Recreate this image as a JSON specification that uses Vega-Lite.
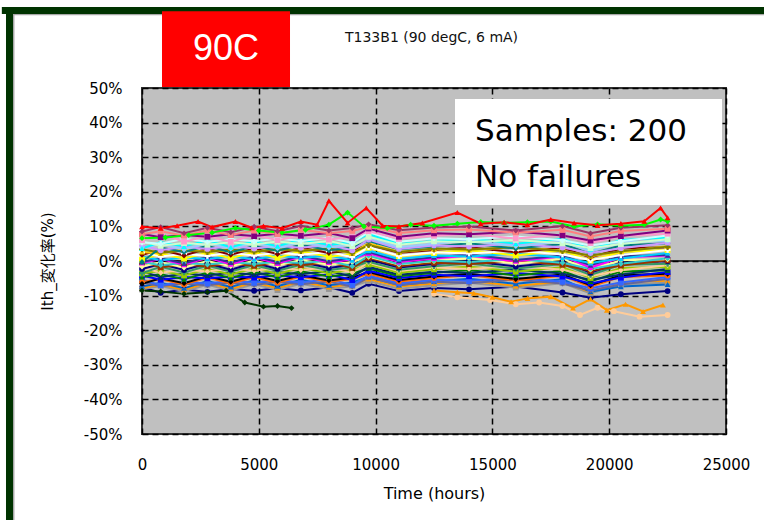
{
"$schema": "https://vega.github.io/schema/vega-lite/v6.json",
"width": 584, "height": 346,
"autosize": {"type": "none"},
"padding": {"left": 142, "top": 88, "right": 38, "bottom": 86},
"background": "white",
"config": {
  "view": {"fill": "#c0c0c0", "stroke": "#333333", "strokeWidth": 2},
  "font": "DejaVu Sans, 'Noto Sans CJK JP'",
  "axis": {"labelOverlap": false, "labelFlush": false, "grid": true, "gridColor": "black", "gridDash": [6, 4], "gridWidth": 1.5, "gridOpacity": 1,
    "domain": false, "ticks": false, "labelFontSize": 15, "labelColor": "black", "labelFont": "DejaVu Sans",
    "titleFontWeight": "normal", "titleColor": "black"},
  "axisX": {"labelPadding": 23, "titleFontSize": 16, "titlePadding": 13, "titleFont": "DejaVu Sans", "tickCount": 20},
  "axisY": {"labelPadding": 20, "titleFontSize": 15, "titlePadding": 28, "titleFont": "DejaVu Sans, 'Noto Sans CJK JP'", "tickCount": 20}
},
"datasets": {
"lines": [
{"s":"s31","t":0,"v":-7.6},{"s":"s31","t":800,"v":-9.2},{"s":"s31","t":1800,"v":-8.3},{"s":"s31","t":2800,"v":-8.9},{"s":"s31","t":3800,"v":-8.1},{"s":"s31","t":4800,"v":-8.6},{"s":"s31","t":5800,"v":-7.9},{"s":"s31","t":6800,"v":-8.5},{"s":"s31","t":8000,"v":-7.6},{"s":"s31","t":9000,"v":-9.2},{"s":"s31","t":9700,"v":-6.6},{"s":"s31","t":11000,"v":-8.7},{"s":"s31","t":12500,"v":-7.8},{"s":"s31","t":14000,"v":-8.2},{"s":"s31","t":16000,"v":-7.4},{"s":"s31","t":18000,"v":-9.1},{"s":"s31","t":19200,"v":-10.6},{"s":"s31","t":20500,"v":-9.6},{"s":"s31","t":22500,"v":-8.7},
{"s":"s17","t":0,"v":-8.2},{"s":"s17","t":800,"v":-7.2},{"s":"s17","t":1800,"v":-8.7},{"s":"s17","t":2800,"v":-6.9},{"s":"s17","t":3800,"v":-8.5},{"s":"s17","t":4800,"v":-6.7},{"s":"s17","t":5800,"v":-8.4},{"s":"s17","t":6800,"v":-6.6},{"s":"s17","t":8000,"v":-8.1},{"s":"s17","t":9000,"v":-7.3},{"s":"s17","t":9700,"v":-5.8},{"s":"s17","t":11000,"v":-8.0},{"s":"s17","t":12500,"v":-7.0},{"s":"s17","t":14000,"v":-6.3},{"s":"s17","t":16000,"v":-7.7},{"s":"s17","t":18000,"v":-6.4},{"s":"s17","t":19200,"v":-9.4},{"s":"s17","t":20500,"v":-6.7},{"s":"s17","t":22500,"v":-6.3},
{"s":"s30","t":0,"v":-7.8},{"s":"s30","t":800,"v":-6.8},{"s":"s30","t":1800,"v":-8.3},{"s":"s30","t":2800,"v":-6.3},{"s":"s30","t":3800,"v":-8.0},{"s":"s30","t":4800,"v":-6.2},{"s":"s30","t":5800,"v":-7.8},{"s":"s30","t":6800,"v":-6.0},{"s":"s30","t":8000,"v":-7.5},{"s":"s30","t":9000,"v":-6.7},{"s":"s30","t":9700,"v":-5.2},{"s":"s30","t":11000,"v":-7.4},{"s":"s30","t":12500,"v":-6.5},{"s":"s30","t":14000,"v":-5.7},{"s":"s30","t":16000,"v":-7.2},{"s":"s30","t":18000,"v":-5.9},{"s":"s30","t":19200,"v":-9.0},{"s":"s30","t":20500,"v":-6.1},{"s":"s30","t":22500,"v":-5.7},
{"s":"s34","t":0,"v":-7.4},{"s":"s34","t":800,"v":-6.3},{"s":"s34","t":1800,"v":-7.9},{"s":"s34","t":2800,"v":-5.8},{"s":"s34","t":3800,"v":-7.5},{"s":"s34","t":4800,"v":-5.6},{"s":"s34","t":5800,"v":-7.3},{"s":"s34","t":6800,"v":-5.4},{"s":"s34","t":8000,"v":-7.0},{"s":"s34","t":9000,"v":-6.2},{"s":"s34","t":9700,"v":-4.6},{"s":"s34","t":11000,"v":-6.9},{"s":"s34","t":12500,"v":-5.9},{"s":"s34","t":14000,"v":-5.1},{"s":"s34","t":16000,"v":-6.6},{"s":"s34","t":18000,"v":-5.3},{"s":"s34","t":19200,"v":-8.9},{"s":"s34","t":20500,"v":-7.4},{"s":"s34","t":22500,"v":-6.8},
{"s":"s16","t":0,"v":-6.2},{"s":"s16","t":800,"v":-7.2},{"s":"s16","t":1800,"v":-6.6},{"s":"s16","t":2800,"v":-7.0},{"s":"s16","t":3800,"v":-6.3},{"s":"s16","t":4800,"v":-6.9},{"s":"s16","t":5800,"v":-6.1},{"s":"s16","t":6800,"v":-6.7},{"s":"s16","t":8000,"v":-5.9},{"s":"s16","t":9000,"v":-7.4},{"s":"s16","t":9700,"v":-4.7},{"s":"s16","t":11000,"v":-6.9},{"s":"s16","t":12500,"v":-6.0},{"s":"s16","t":14000,"v":-6.4},{"s":"s16","t":16000,"v":-5.4},{"s":"s16","t":18000,"v":-6.5},{"s":"s16","t":19200,"v":-8.5},{"s":"s16","t":20500,"v":-6.8},{"s":"s16","t":22500,"v":-5.1},
{"s":"s25","t":0,"v":-5.4},{"s":"s25","t":800,"v":-7.0},{"s":"s25","t":1800,"v":-6.1},{"s":"s25","t":2800,"v":-6.5},{"s":"s25","t":3800,"v":-5.7},{"s":"s25","t":4800,"v":-6.3},{"s":"s25","t":5800,"v":-5.5},{"s":"s25","t":6800,"v":-6.2},{"s":"s25","t":8000,"v":-5.3},{"s":"s25","t":9000,"v":-6.9},{"s":"s25","t":9700,"v":-4.2},{"s":"s25","t":11000,"v":-6.4},{"s":"s25","t":12500,"v":-5.4},{"s":"s25","t":14000,"v":-5.8},{"s":"s25","t":16000,"v":-4.9},{"s":"s25","t":18000,"v":-6.0},{"s":"s25","t":19200,"v":-7.9},{"s":"s25","t":20500,"v":-6.2},{"s":"s25","t":22500,"v":-4.6},
{"s":"s15","t":0,"v":-6.1},{"s":"s15","t":800,"v":-5.3},{"s":"s15","t":1800,"v":-6.8},{"s":"s15","t":2800,"v":-4.8},{"s":"s15","t":3800,"v":-6.5},{"s":"s15","t":4800,"v":-4.7},{"s":"s15","t":5800,"v":-6.3},{"s":"s15","t":6800,"v":-4.5},{"s":"s15","t":8000,"v":-6.0},{"s":"s15","t":9000,"v":-5.2},{"s":"s15","t":9700,"v":-3.7},{"s":"s15","t":11000,"v":-5.9},{"s":"s15","t":12500,"v":-4.9},{"s":"s15","t":14000,"v":-4.1},{"s":"s15","t":16000,"v":-5.6},{"s":"s15","t":18000,"v":-4.3},{"s":"s15","t":19200,"v":-7.4},{"s":"s15","t":20500,"v":-4.6},{"s":"s15","t":22500,"v":-4.2},
{"s":"s20","t":0,"v":-6.6},{"s":"s20","t":800,"v":-5.0},{"s":"s20","t":1800,"v":-6.4},{"s":"s20","t":2800,"v":-4.4},{"s":"s20","t":3800,"v":-6.0},{"s":"s20","t":4800,"v":-4.2},{"s":"s20","t":5800,"v":-5.8},{"s":"s20","t":6800,"v":-4.1},{"s":"s20","t":8000,"v":-5.6},{"s":"s20","t":9000,"v":-4.8},{"s":"s20","t":9700,"v":-3.2},{"s":"s20","t":11000,"v":-5.5},{"s":"s20","t":12500,"v":-4.5},{"s":"s20","t":14000,"v":-3.7},{"s":"s20","t":16000,"v":-5.2},{"s":"s20","t":18000,"v":-3.9},{"s":"s20","t":19200,"v":-7.0},{"s":"s20","t":20500,"v":-4.1},{"s":"s20","t":22500,"v":-3.7},
{"s":"s9","t":0,"v":-4.2},{"s":"s9","t":800,"v":-5.4},{"s":"s9","t":1800,"v":-4.6},{"s":"s9","t":2800,"v":-5.0},{"s":"s9","t":3800,"v":-4.5},{"s":"s9","t":4800,"v":-4.8},{"s":"s9","t":5800,"v":-4.1},{"s":"s9","t":6800,"v":-4.7},{"s":"s9","t":8000,"v":-3.9},{"s":"s9","t":9000,"v":-5.5},{"s":"s9","t":9700,"v":-2.8},{"s":"s9","t":11000,"v":-4.9},{"s":"s9","t":12500,"v":-4.0},{"s":"s9","t":14000,"v":-4.4},{"s":"s9","t":16000,"v":-3.5},{"s":"s9","t":18000,"v":-4.5},{"s":"s9","t":19200,"v":-6.5},{"s":"s9","t":20500,"v":-4.8},{"s":"s9","t":22500,"v":-3.2},
{"s":"s26","t":0,"v":-4.6},{"s":"s26","t":800,"v":-3.8},{"s":"s26","t":1800,"v":-5.3},{"s":"s26","t":2800,"v":-3.3},{"s":"s26","t":3800,"v":-4.9},{"s":"s26","t":4800,"v":-3.2},{"s":"s26","t":5800,"v":-4.7},{"s":"s26","t":6800,"v":-3.0},{"s":"s26","t":8000,"v":-4.5},{"s":"s26","t":9000,"v":-3.7},{"s":"s26","t":9700,"v":-2.1},{"s":"s26","t":11000,"v":-4.4},{"s":"s26","t":12500,"v":-3.4},{"s":"s26","t":14000,"v":-2.6},{"s":"s26","t":16000,"v":-4.2},{"s":"s26","t":18000,"v":-2.9},{"s":"s26","t":19200,"v":-5.9},{"s":"s26","t":20500,"v":-3.0},{"s":"s26","t":22500,"v":-2.7},
{"s":"s18","t":0,"v":-3.0},{"s":"s18","t":800,"v":-4.7},{"s":"s18","t":1800,"v":-3.6},{"s":"s18","t":2800,"v":-4.2},{"s":"s18","t":3800,"v":-3.4},{"s":"s18","t":4800,"v":-4.0},{"s":"s18","t":5800,"v":-3.2},{"s":"s18","t":6800,"v":-3.8},{"s":"s18","t":8000,"v":-2.9},{"s":"s18","t":9000,"v":-4.5},{"s":"s18","t":9700,"v":-1.7},{"s":"s18","t":11000,"v":-4.0},{"s":"s18","t":12500,"v":-3.1},{"s":"s18","t":14000,"v":-3.4},{"s":"s18","t":16000,"v":-2.5},{"s":"s18","t":18000,"v":-3.6},{"s":"s18","t":19200,"v":-5.5},{"s":"s18","t":20500,"v":-3.9},{"s":"s18","t":22500,"v":-2.3},
{"s":"s13","t":0,"v":-3.6},{"s":"s13","t":800,"v":-2.8},{"s":"s13","t":1800,"v":-4.2},{"s":"s13","t":2800,"v":-2.3},{"s":"s13","t":3800,"v":-3.9},{"s":"s13","t":4800,"v":-2.1},{"s":"s13","t":5800,"v":-3.7},{"s":"s13","t":6800,"v":-2.0},{"s":"s13","t":8000,"v":-3.5},{"s":"s13","t":9000,"v":-2.6},{"s":"s13","t":9700,"v":-1.0},{"s":"s13","t":11000,"v":-3.4},{"s":"s13","t":12500,"v":-2.4},{"s":"s13","t":14000,"v":-1.6},{"s":"s13","t":16000,"v":-3.1},{"s":"s13","t":18000,"v":-1.8},{"s":"s13","t":19200,"v":-4.9},{"s":"s13","t":20500,"v":-2.0},{"s":"s13","t":22500,"v":-1.7},
{"s":"s24","t":0,"v":-1.8},{"s":"s24","t":800,"v":-3.4},{"s":"s24","t":1800,"v":-2.5},{"s":"s24","t":2800,"v":-3.0},{"s":"s24","t":3800,"v":-2.2},{"s":"s24","t":4800,"v":-2.8},{"s":"s24","t":5800,"v":-2.0},{"s":"s24","t":6800,"v":-2.6},{"s":"s24","t":8000,"v":-1.8},{"s":"s24","t":9000,"v":-3.3},{"s":"s24","t":9700,"v":-0.5},{"s":"s24","t":11000,"v":-2.9},{"s":"s24","t":12500,"v":-1.9},{"s":"s24","t":14000,"v":-2.3},{"s":"s24","t":16000,"v":-1.4},{"s":"s24","t":18000,"v":-2.5},{"s":"s24","t":19200,"v":-4.4},{"s":"s24","t":20500,"v":-2.7},{"s":"s24","t":22500,"v":-1.2},
{"s":"s19","t":0,"v":-3.5},{"s":"s19","t":800,"v":-1.7},{"s":"s19","t":1800,"v":-3.3},{"s":"s19","t":2800,"v":-1.4},{"s":"s19","t":3800,"v":-3.0},{"s":"s19","t":4800,"v":-1.2},{"s":"s19","t":5800,"v":-2.8},{"s":"s19","t":6800,"v":-1.1},{"s":"s19","t":8000,"v":-2.6},{"s":"s19","t":9000,"v":-1.8},{"s":"s19","t":9700,"v":-0.2},{"s":"s19","t":11000,"v":-2.5},{"s":"s19","t":12500,"v":-1.5},{"s":"s19","t":14000,"v":-0.7},{"s":"s19","t":16000,"v":-2.2},{"s":"s19","t":18000,"v":-0.9},{"s":"s19","t":19200,"v":-4.0},{"s":"s19","t":20500,"v":-1.1},{"s":"s19","t":22500,"v":-0.8},
{"s":"s7","t":0,"v":-2.3},{"s":"s7","t":800,"v":-0.9},{"s":"s7","t":1800,"v":-2.6},{"s":"s7","t":2800,"v":-0.7},{"s":"s7","t":3800,"v":-2.5},{"s":"s7","t":4800,"v":-0.5},{"s":"s7","t":5800,"v":-2.3},{"s":"s7","t":6800,"v":-0.3},{"s":"s7","t":8000,"v":-2.0},{"s":"s7","t":9000,"v":-1.1},{"s":"s7","t":9700,"v":0.4},{"s":"s7","t":11000,"v":-1.9},{"s":"s7","t":12500,"v":-0.9},{"s":"s7","t":14000,"v":0.0},{"s":"s7","t":16000,"v":-1.6},{"s":"s7","t":18000,"v":-0.2},{"s":"s7","t":19200,"v":-3.4},{"s":"s7","t":20500,"v":-0.5},{"s":"s7","t":22500,"v":-0.1},
{"s":"s21","t":0,"v":-0.4},{"s":"s21","t":800,"v":-1.8},{"s":"s21","t":1800,"v":-1.1},{"s":"s21","t":2800,"v":-1.5},{"s":"s21","t":3800,"v":-0.8},{"s":"s21","t":4800,"v":-1.4},{"s":"s21","t":5800,"v":-0.6},{"s":"s21","t":6800,"v":-1.2},{"s":"s21","t":8000,"v":-0.4},{"s":"s21","t":9000,"v":-2.0},{"s":"s21","t":9700,"v":0.9},{"s":"s21","t":11000,"v":-1.5},{"s":"s21","t":12500,"v":-0.5},{"s":"s21","t":14000,"v":-0.9},{"s":"s21","t":16000,"v":0.0},{"s":"s21","t":18000,"v":-1.1},{"s":"s21","t":19200,"v":-2.9},{"s":"s21","t":20500,"v":-1.3},{"s":"s21","t":22500,"v":0.2},
{"s":"s33","t":0,"v":-1.6},{"s":"s33","t":800,"v":-0.4},{"s":"s33","t":1800,"v":-1.9},{"s":"s33","t":2800,"v":0.0},{"s":"s33","t":3800,"v":-1.5},{"s":"s33","t":4800,"v":0.1},{"s":"s33","t":5800,"v":-1.3},{"s":"s33","t":6800,"v":0.3},{"s":"s33","t":8000,"v":-1.1},{"s":"s33","t":9000,"v":-0.3},{"s":"s33","t":9700,"v":1.2},{"s":"s33","t":11000,"v":-1.0},{"s":"s33","t":12500,"v":0.0},{"s":"s33","t":14000,"v":0.8},{"s":"s33","t":16000,"v":-0.7},{"s":"s33","t":18000,"v":0.6},{"s":"s33","t":19200,"v":-2.5},{"s":"s33","t":20500,"v":0.2},{"s":"s33","t":22500,"v":0.5},
{"s":"s12","t":0,"v":-0.3},{"s":"s12","t":800,"v":-1.2},{"s":"s12","t":1800,"v":-0.6},{"s":"s12","t":2800,"v":-1.0},{"s":"s12","t":3800,"v":-0.3},{"s":"s12","t":4800,"v":-0.9},{"s":"s12","t":5800,"v":-0.2},{"s":"s12","t":6800,"v":-0.6},{"s":"s12","t":8000,"v":0.1},{"s":"s12","t":9000,"v":-1.5},{"s":"s12","t":9700,"v":1.5},{"s":"s12","t":11000,"v":-0.9},{"s":"s12","t":12500,"v":0.1},{"s":"s12","t":14000,"v":-0.3},{"s":"s12","t":16000,"v":0.5},{"s":"s12","t":18000,"v":-0.5},{"s":"s12","t":19200,"v":-2.3},{"s":"s12","t":20500,"v":-0.8},{"s":"s12","t":22500,"v":0.8},
{"s":"s6","t":0,"v":-0.6},{"s":"s6","t":800,"v":0.6},{"s":"s6","t":1800,"v":-1.1},{"s":"s6","t":2800,"v":0.9},{"s":"s6","t":3800,"v":-0.9},{"s":"s6","t":4800,"v":1.0},{"s":"s6","t":5800,"v":-0.7},{"s":"s6","t":6800,"v":1.2},{"s":"s6","t":8000,"v":-0.4},{"s":"s6","t":9000,"v":0.4},{"s":"s6","t":9700,"v":2.2},{"s":"s6","t":11000,"v":-0.3},{"s":"s6","t":12500,"v":0.7},{"s":"s6","t":14000,"v":1.6},{"s":"s6","t":16000,"v":-0.1},{"s":"s6","t":18000,"v":1.4},{"s":"s6","t":19200,"v":-1.9},{"s":"s6","t":20500,"v":1.0},{"s":"s6","t":22500,"v":1.6},
{"s":"s22","t":0,"v":-0.3},{"s":"s22","t":800,"v":0.8},{"s":"s22","t":1800,"v":-0.7},{"s":"s22","t":2800,"v":1.2},{"s":"s22","t":3800,"v":-0.4},{"s":"s22","t":4800,"v":1.3},{"s":"s22","t":5800,"v":-0.3},{"s":"s22","t":6800,"v":1.5},{"s":"s22","t":8000,"v":-0.1},{"s":"s22","t":9000,"v":0.8},{"s":"s22","t":9700,"v":2.6},{"s":"s22","t":11000,"v":0.1},{"s":"s22","t":12500,"v":1.1},{"s":"s22","t":14000,"v":1.9},{"s":"s22","t":16000,"v":0.3},{"s":"s22","t":18000,"v":1.6},{"s":"s22","t":19200,"v":-1.2},{"s":"s22","t":20500,"v":1.4},{"s":"s22","t":22500,"v":1.7},
{"s":"s10","t":0,"v":1.3},{"s":"s10","t":800,"v":0.2},{"s":"s10","t":1800,"v":1.0},{"s":"s10","t":2800,"v":0.6},{"s":"s10","t":3800,"v":1.4},{"s":"s10","t":4800,"v":0.5},{"s":"s10","t":5800,"v":1.5},{"s":"s10","t":6800,"v":0.9},{"s":"s10","t":8000,"v":1.6},{"s":"s10","t":9000,"v":0.2},{"s":"s10","t":9700,"v":3.0},{"s":"s10","t":11000,"v":0.6},{"s":"s10","t":12500,"v":1.6},{"s":"s10","t":14000,"v":1.3},{"s":"s10","t":16000,"v":2.1},{"s":"s10","t":18000,"v":1.0},{"s":"s10","t":19200,"v":-0.6},{"s":"s10","t":20500,"v":0.7},{"s":"s10","t":22500,"v":2.3},
{"s":"s5","t":0,"v":0.4},{"s":"s5","t":800,"v":2.1},{"s":"s5","t":1800,"v":0.7},{"s":"s5","t":2800,"v":2.4},{"s":"s5","t":3800,"v":0.8},{"s":"s5","t":4800,"v":2.6},{"s":"s5","t":5800,"v":0.9},{"s":"s5","t":6800,"v":2.8},{"s":"s5","t":8000,"v":1.2},{"s":"s5","t":9000,"v":2.0},{"s":"s5","t":9700,"v":3.8},{"s":"s5","t":11000,"v":1.4},{"s":"s5","t":12500,"v":2.3},{"s":"s5","t":14000,"v":3.1},{"s":"s5","t":16000,"v":1.6},{"s":"s5","t":18000,"v":3.0},{"s":"s5","t":19200,"v":0.1},{"s":"s5","t":20500,"v":2.6},{"s":"s5","t":22500,"v":3.2},
{"s":"s27","t":0,"v":2.4},{"s":"s27","t":800,"v":1.3},{"s":"s27","t":1800,"v":2.0},{"s":"s27","t":2800,"v":1.5},{"s":"s27","t":3800,"v":2.3},{"s":"s27","t":4800,"v":1.6},{"s":"s27","t":5800,"v":2.4},{"s":"s27","t":6800,"v":1.8},{"s":"s27","t":8000,"v":2.6},{"s":"s27","t":9000,"v":1.1},{"s":"s27","t":9700,"v":4.0},{"s":"s27","t":11000,"v":1.5},{"s":"s27","t":12500,"v":2.5},{"s":"s27","t":14000,"v":2.2},{"s":"s27","t":16000,"v":3.0},{"s":"s27","t":18000,"v":1.9},{"s":"s27","t":19200,"v":0.3},{"s":"s27","t":20500,"v":1.7},{"s":"s27","t":22500,"v":3.2},
{"s":"s8","t":0,"v":1.8},{"s":"s8","t":800,"v":3.2},{"s":"s8","t":1800,"v":1.6},{"s":"s8","t":2800,"v":3.5},{"s":"s8","t":3800,"v":1.8},{"s":"s8","t":4800,"v":3.6},{"s":"s8","t":5800,"v":2.0},{"s":"s8","t":6800,"v":3.8},{"s":"s8","t":8000,"v":2.3},{"s":"s8","t":9000,"v":3.0},{"s":"s8","t":9700,"v":4.7},{"s":"s8","t":11000,"v":2.4},{"s":"s8","t":12500,"v":3.2},{"s":"s8","t":14000,"v":4.0},{"s":"s8","t":16000,"v":2.5},{"s":"s8","t":18000,"v":3.8},{"s":"s8","t":19200,"v":1.0},{"s":"s8","t":20500,"v":3.6},{"s":"s8","t":22500,"v":4.0},
{"s":"s14","t":0,"v":2.6},{"s":"s14","t":800,"v":2.2},{"s":"s14","t":1800,"v":3.3},{"s":"s14","t":2800,"v":2.6},{"s":"s14","t":3800,"v":3.2},{"s":"s14","t":4800,"v":2.7},{"s":"s14","t":5800,"v":3.5},{"s":"s14","t":6800,"v":2.9},{"s":"s14","t":8000,"v":3.7},{"s":"s14","t":9000,"v":2.2},{"s":"s14","t":9700,"v":5.1},{"s":"s14","t":11000,"v":2.6},{"s":"s14","t":12500,"v":3.5},{"s":"s14","t":14000,"v":3.2},{"s":"s14","t":16000,"v":4.0},{"s":"s14","t":18000,"v":3.0},{"s":"s14","t":19200,"v":1.4},{"s":"s14","t":20500,"v":2.7},{"s":"s14","t":22500,"v":4.3},
{"s":"s36","t":0,"v":3.4},{"s":"s36","t":800,"v":2.4},{"s":"s36","t":1800,"v":3.0},{"s":"s36","t":2800,"v":2.6},{"s":"s36","t":3800,"v":3.3},{"s":"s36","t":4800,"v":2.7},{"s":"s36","t":5800,"v":3.4},{"s":"s36","t":6800,"v":2.9},{"s":"s36","t":8000,"v":3.6},{"s":"s36","t":9000,"v":2.3},{"s":"s36","t":9700,"v":4.6},{"s":"s36","t":11000,"v":2.6},{"s":"s36","t":12500,"v":3.6},{"s":"s36","t":14000,"v":3.3},{"s":"s36","t":16000,"v":4.0},{"s":"s36","t":18000,"v":2.9},{"s":"s36","t":19200,"v":1.6},{"s":"s36","t":20500,"v":2.8},{"s":"s36","t":22500,"v":4.1},
{"s":"s4","t":0,"v":-0.3},{"s":"s4","t":800,"v":3.9},{"s":"s4","t":1800,"v":2.6},{"s":"s4","t":2800,"v":4.4},{"s":"s4","t":3800,"v":2.5},{"s":"s4","t":4800,"v":4.3},{"s":"s4","t":5800,"v":3.0},{"s":"s4","t":6800,"v":4.7},{"s":"s4","t":8000,"v":3.1},{"s":"s4","t":9000,"v":3.9},{"s":"s4","t":9700,"v":5.8},{"s":"s4","t":11000,"v":3.4},{"s":"s4","t":12500,"v":4.2},{"s":"s4","t":14000,"v":5.1},{"s":"s4","t":16000,"v":3.6},{"s":"s4","t":18000,"v":4.9},{"s":"s4","t":19200,"v":2.1},{"s":"s4","t":20500,"v":4.5},{"s":"s4","t":22500,"v":5.1},
{"s":"s23","t":0,"v":4.5},{"s":"s23","t":800,"v":3.1},{"s":"s23","t":1800,"v":4.1},{"s":"s23","t":2800,"v":3.5},{"s":"s23","t":3800,"v":4.3},{"s":"s23","t":4800,"v":3.6},{"s":"s23","t":5800,"v":4.4},{"s":"s23","t":6800,"v":3.8},{"s":"s23","t":8000,"v":4.6},{"s":"s23","t":9000,"v":3.1},{"s":"s23","t":9700,"v":6.2},{"s":"s23","t":11000,"v":3.5},{"s":"s23","t":12500,"v":4.5},{"s":"s23","t":14000,"v":4.2},{"s":"s23","t":16000,"v":5.0},{"s":"s23","t":18000,"v":3.9},{"s":"s23","t":19200,"v":2.3},{"s":"s23","t":20500,"v":3.7},{"s":"s23","t":22500,"v":5.3},
{"s":"s28","t":0,"v":3.7},{"s":"s28","t":800,"v":5.0},{"s":"s28","t":1800,"v":3.3},{"s":"s28","t":2800,"v":5.2},{"s":"s28","t":3800,"v":3.6},{"s":"s28","t":4800,"v":5.3},{"s":"s28","t":5800,"v":3.7},{"s":"s28","t":6800,"v":5.5},{"s":"s28","t":8000,"v":3.9},{"s":"s28","t":9000,"v":4.8},{"s":"s28","t":9700,"v":6.6},{"s":"s28","t":11000,"v":4.0},{"s":"s28","t":12500,"v":5.0},{"s":"s28","t":14000,"v":5.9},{"s":"s28","t":16000,"v":4.3},{"s":"s28","t":18000,"v":5.6},{"s":"s28","t":19200,"v":2.8},{"s":"s28","t":20500,"v":5.4},{"s":"s28","t":22500,"v":5.8},
{"s":"s3","t":0,"v":3.6},{"s":"s3","t":800,"v":5.5},{"s":"s3","t":1800,"v":4.2},{"s":"s3","t":2800,"v":6.0},{"s":"s3","t":3800,"v":4.0},{"s":"s3","t":4800,"v":5.8},{"s":"s3","t":5800,"v":4.3},{"s":"s3","t":6800,"v":6.2},{"s":"s3","t":8000,"v":4.6},{"s":"s3","t":9000,"v":5.5},{"s":"s3","t":9700,"v":7.8},{"s":"s3","t":11000,"v":4.9},{"s":"s3","t":12500,"v":5.8},{"s":"s3","t":14000,"v":6.5},{"s":"s3","t":16000,"v":5.0},{"s":"s3","t":18000,"v":6.4},{"s":"s3","t":19200,"v":3.4},{"s":"s3","t":20500,"v":6.1},{"s":"s3","t":22500,"v":6.8},
{"s":"s32","t":0,"v":5.6},{"s":"s32","t":800,"v":4.4},{"s":"s32","t":1800,"v":5.2},{"s":"s32","t":2800,"v":4.7},{"s":"s32","t":3800,"v":5.4},{"s":"s32","t":4800,"v":4.8},{"s":"s32","t":5800,"v":5.6},{"s":"s32","t":6800,"v":4.9},{"s":"s32","t":8000,"v":5.8},{"s":"s32","t":9000,"v":4.3},{"s":"s32","t":9700,"v":7.0},{"s":"s32","t":11000,"v":4.7},{"s":"s32","t":12500,"v":5.7},{"s":"s32","t":14000,"v":5.4},{"s":"s32","t":16000,"v":6.1},{"s":"s32","t":18000,"v":5.1},{"s":"s32","t":19200,"v":3.7},{"s":"s32","t":20500,"v":4.9},{"s":"s32","t":22500,"v":6.3},
{"s":"s11","t":0,"v":5.4},{"s":"s11","t":800,"v":5.0},{"s":"s11","t":1800,"v":6.4},{"s":"s11","t":2800,"v":5.6},{"s":"s11","t":3800,"v":6.3},{"s":"s11","t":4800,"v":5.7},{"s":"s11","t":5800,"v":6.5},{"s":"s11","t":6800,"v":5.8},{"s":"s11","t":8000,"v":6.7},{"s":"s11","t":9000,"v":5.2},{"s":"s11","t":9700,"v":8.4},{"s":"s11","t":11000,"v":5.6},{"s":"s11","t":12500,"v":6.6},{"s":"s11","t":14000,"v":6.3},{"s":"s11","t":16000,"v":7.1},{"s":"s11","t":18000,"v":6.0},{"s":"s11","t":19200,"v":4.5},{"s":"s11","t":20500,"v":5.7},{"s":"s11","t":22500,"v":7.4},
{"s":"s2","t":0,"v":6.0},{"s":"s2","t":800,"v":8.0},{"s":"s2","t":1800,"v":5.6},{"s":"s2","t":2800,"v":7.2},{"s":"s2","t":3800,"v":5.5},{"s":"s2","t":4800,"v":7.6},{"s":"s2","t":5800,"v":6.0},{"s":"s2","t":6800,"v":7.4},{"s":"s2","t":8000,"v":6.2},{"s":"s2","t":9000,"v":6.9},{"s":"s2","t":9700,"v":8.6},{"s":"s2","t":11000,"v":6.4},{"s":"s2","t":12500,"v":7.3},{"s":"s2","t":14000,"v":7.9},{"s":"s2","t":16000,"v":6.5},{"s":"s2","t":18000,"v":7.6},{"s":"s2","t":19200,"v":5.2},{"s":"s2","t":20500,"v":7.2},{"s":"s2","t":22500,"v":7.9},
{"s":"s29","t":0,"v":7.8},{"s":"s29","t":800,"v":6.9},{"s":"s29","t":1800,"v":7.5},{"s":"s29","t":2800,"v":7.0},{"s":"s29","t":3800,"v":7.7},{"s":"s29","t":4800,"v":7.2},{"s":"s29","t":5800,"v":7.9},{"s":"s29","t":6800,"v":7.3},{"s":"s29","t":8000,"v":8.1},{"s":"s29","t":9000,"v":6.6},{"s":"s29","t":9700,"v":9.4},{"s":"s29","t":11000,"v":7.0},{"s":"s29","t":12500,"v":8.0},{"s":"s29","t":14000,"v":7.7},{"s":"s29","t":16000,"v":8.5},{"s":"s29","t":18000,"v":7.4},{"s":"s29","t":19200,"v":5.9},{"s":"s29","t":20500,"v":7.2},{"s":"s29","t":22500,"v":8.8},
{"s":"s35","t":0,"v":7.7},{"s":"s35","t":800,"v":8.6},{"s":"s35","t":1800,"v":7.3},{"s":"s35","t":2800,"v":8.9},{"s":"s35","t":3800,"v":7.5},{"s":"s35","t":4800,"v":8.8},{"s":"s35","t":5800,"v":7.8},{"s":"s35","t":6800,"v":9.0},{"s":"s35","t":8000,"v":8.0},{"s":"s35","t":9000,"v":8.7},{"s":"s35","t":9700,"v":9.9},{"s":"s35","t":11000,"v":8.1},{"s":"s35","t":12500,"v":8.9},{"s":"s35","t":14000,"v":9.1},{"s":"s35","t":16000,"v":8.2},{"s":"s35","t":18000,"v":9.0},{"s":"s35","t":19200,"v":7.1},{"s":"s35","t":20500,"v":8.7},{"s":"s35","t":22500,"v":9.3},
{"s":"s1","t":0,"v":8.5},{"s":"s1","t":800,"v":9.8},{"s":"s1","t":1800,"v":8.0},{"s":"s1","t":2800,"v":9.6},{"s":"s1","t":3800,"v":8.3},{"s":"s1","t":4800,"v":9.9},{"s":"s1","t":5800,"v":8.6},{"s":"s1","t":6800,"v":10.1},{"s":"s1","t":8000,"v":8.8},{"s":"s1","t":9000,"v":9.5},{"s":"s1","t":9700,"v":10.6},{"s":"s1","t":11000,"v":8.9},{"s":"s1","t":12500,"v":9.7},{"s":"s1","t":14000,"v":10.0},{"s":"s1","t":16000,"v":8.8},{"s":"s1","t":18000,"v":10.1},{"s":"s1","t":19200,"v":8.0},{"s":"s1","t":20500,"v":9.6},{"s":"s1","t":22500,"v":10.3},
{"s":"dg","t":0,"v":-8.5},{"s":"dg","t":800,"v":-8.8},{"s":"dg","t":1800,"v":-9.5},{"s":"dg","t":2800,"v":-9.0},{"s":"dg","t":3600,"v":-8.6},{"s":"dg","t":4400,"v":-12.0},{"s":"dg","t":5200,"v":-13.2},{"s":"dg","t":5800,"v":-13.0},{"s":"dg","t":6400,"v":-13.6},
{"s":"p","t":12500,"v":-9.5},{"s":"p","t":13500,"v":-10.5},{"s":"p","t":14900,"v":-11.3},{"s":"p","t":16000,"v":-12.5},{"s":"p","t":17000,"v":-12.0},{"s":"p","t":18000,"v":-13.0},{"s":"p","t":18750,"v":-15.6},{"s":"p","t":19500,"v":-13.5},{"s":"p","t":20200,"v":-14.5},{"s":"p","t":21300,"v":-16.1},{"s":"p","t":22500,"v":-15.6},
{"s":"o","t":12500,"v":-8.5},{"s":"o","t":13500,"v":-9.0},{"s":"o","t":14200,"v":-9.3},{"s":"o","t":15000,"v":-10.5},{"s":"o","t":15800,"v":-11.8},{"s":"o","t":16500,"v":-10.8},{"s":"o","t":17500,"v":-10.3},{"s":"o","t":18450,"v":-13.6},{"s":"o","t":19200,"v":-11.0},{"s":"o","t":19900,"v":-14.2},{"s":"o","t":20700,"v":-12.5},{"s":"o","t":21450,"v":-14.6},{"s":"o","t":22300,"v":-12.7},
{"s":"g","t":0,"v":6.6},{"s":"g","t":1000,"v":6.8},{"s":"g","t":2000,"v":7.5},{"s":"g","t":3000,"v":8.2},{"s":"g","t":4000,"v":9.5},{"s":"g","t":5000,"v":8.8},{"s":"g","t":6000,"v":8.2},{"s":"g","t":7000,"v":9.0},{"s":"g","t":8000,"v":10.5},{"s":"g","t":8800,"v":14.0},{"s":"g","t":9500,"v":10.0},{"s":"g","t":10500,"v":9.5},{"s":"g","t":11500,"v":10.5},{"s":"g","t":12500,"v":10.2},{"s":"g","t":13500,"v":10.8},{"s":"g","t":14500,"v":11.3},{"s":"g","t":15500,"v":11.0},{"s":"g","t":16500,"v":11.2},{"s":"g","t":17500,"v":11.4},{"s":"g","t":18500,"v":10.0},{"s":"g","t":19500,"v":10.6},{"s":"g","t":20500,"v":10.2},{"s":"g","t":21500,"v":10.5},{"s":"g","t":22200,"v":12.0},{"s":"g","t":22500,"v":11.5},
{"s":"r","t":0,"v":9.9},{"s":"r","t":800,"v":9.5},{"s":"r","t":1500,"v":10.2},{"s":"r","t":2400,"v":11.4},{"s":"r","t":3000,"v":9.8},{"s":"r","t":4000,"v":11.4},{"s":"r","t":4700,"v":9.6},{"s":"r","t":5200,"v":10.1},{"s":"r","t":6000,"v":9.5},{"s":"r","t":6800,"v":11.4},{"s":"r","t":7500,"v":10.5},{"s":"r","t":8000,"v":17.4},{"s":"r","t":8800,"v":11.0},{"s":"r","t":9600,"v":15.3},{"s":"r","t":10300,"v":10.2},{"s":"r","t":11000,"v":10.0},{"s":"r","t":12000,"v":11.0},{"s":"r","t":13500,"v":14.0},{"s":"r","t":14500,"v":10.8},{"s":"r","t":15500,"v":11.2},{"s":"r","t":16500,"v":10.5},{"s":"r","t":17500,"v":12.0},{"s":"r","t":18500,"v":11.0},{"s":"r","t":19500,"v":10.3},{"s":"r","t":20500,"v":10.8},{"s":"r","t":21500,"v":11.5},{"s":"r","t":22200,"v":15.3},{"s":"r","t":22500,"v":12.5}
]
},
"layer": [
  {
    "data": {"values": [{}]},
    "mark": {"type": "rect", "color": "#003300"},
    "encoding": {
      "x": {"datum": -6000, "type": "quantitative", "scale": {"domain": [0, 25000], "nice": false, "zero": false},
        "title": "Time (hours)", "axis": {"values": [0, 5000, 10000, 15000, 20000, 25000], "format": "d", "tickCount": 20}},
      "x2": {"datum": 27000},
      "y": {"datum": 73.4, "type": "quantitative", "scale": {"domain": [-50, 50], "nice": false, "zero": false},
        "title": "Ith_変化率(%)", "axis": {"values": [-50, -40, -30, -20, -10, 0, 10, 20, 30, 40, 50], "labelExpr": "datum.value + '%'", "tickCount": 20}},
      "y2": {"datum": 71.4}
    }
  },
  {
    "data": {"values": [{}]},
    "mark": {"type": "rect", "color": "#003300"},
    "encoding": {
      "x": {"datum": -5822, "type": "quantitative"},
      "x2": {"datum": -5522},
      "y": {"datum": 73.4, "type": "quantitative"},
      "y2": {"datum": -80}
    }
  },
  {
    "data": {"values": [{}]},
    "mark": {"type": "rect", "color": "#a8a8a8"},
    "encoding": {
      "x": {"datum": -5522, "type": "quantitative"},
      "x2": {"datum": 27000},
      "y": {"datum": 71.4, "type": "quantitative"},
      "y2": {"datum": 71.0}
    }
  },
  {
    "data": {"values": [{}]},
    "mark": {"type": "rect", "color": "#a8a8a8"},
    "encoding": {
      "x": {"datum": -5522, "type": "quantitative"},
      "x2": {"datum": -5460},
      "y": {"datum": 71.4, "type": "quantitative"},
      "y2": {"datum": -80}
    }
  },
  {
    "data": {"values": [{}]},
    "mark": {"type": "rect", "color": "#ff0000"},
    "encoding": {
      "x": {"datum": 856, "type": "quantitative"},
      "x2": {"datum": 6336},
      "y": {"datum": 72.2, "type": "quantitative"},
      "y2": {"datum": 50.3}
    }
  },
  {
    "data": {"values": [{"label": "90C"}]},
    "mark": {"type": "text", "color": "white", "fontSize": 36, "align": "center", "baseline": "middle", "font": "Liberation Sans"},
    "encoding": {
      "x": {"datum": 3596, "type": "quantitative"},
      "y": {"datum": 61.2, "type": "quantitative"},
      "text": {"field": "label"}
    }
  },
  {
    "data": {"values": [{"label": "T133B1 (90 degC, 6 mA)"}]},
    "mark": {"type": "text", "color": "#111111", "fontSize": 14, "align": "left", "baseline": "middle"},
    "encoding": {
      "x": {"datum": 8690, "type": "quantitative"},
      "y": {"datum": 64.4, "type": "quantitative"},
      "text": {"field": "label"}
    }
  },
  {
    "data": {"values": [{}]},
    "mark": {"type": "rule", "color": "black", "strokeWidth": 1.5},
    "encoding": {
      "y": {"datum": 0, "type": "quantitative"}
    }
  },
  {
    "data": {"name": "lines"},
    "encoding": {
      "x": {"field": "t", "type": "quantitative", "title": "Time (hours)",
        "axis": {"values": [0, 5000, 10000, 15000, 20000, 25000], "format": "d", "tickCount": 20}},
      "y": {"field": "v", "type": "quantitative", "title": "Ith_変化率(%)",
        "axis": {"values": [-50, -40, -30, -20, -10, 0, 10, 20, 30, 40, 50], "labelExpr": "datum.value + '%'", "tickCount": 20}},
      "color": {"field": "s", "type": "nominal", "legend": null,
        "scale": {
          "domain": ["s1","s2","s3","s4","s5","s6","s7","s8","s9","s10","s11","s12","s13","s14","s15","s16","s17","s18","s19","s20","s21","s22","s23","s24","s25","s26","s27","s28","s29","s30","s31","s32","s33","s34","s35","s36","r","g","dg","o","p"],
          "range": ["#993366","#FF99CC","#00FFFF","#008080","#FFFF00","#FF00FF","#000080","#800000","#0000FF","#00CCFF","#CCFFFF","#33CCCC","#99CC00","#FFCC00","#FF6600","#666699","#969696","#003366","#339966","#000000","#993300","#333399","#CC99FF","#FFCC99","#3366FF","#008000","#FFFFFF","#99CCFF","#800080","#FF9900","#000080","#CCFFCC","#FFFF99","#0066CC","#FF8080","#808000","#FF0000","#00FF00","#003300","#FF9900","#FFCC99"]
        }}
    },
    "layer": [
      {"mark": {"type": "line", "strokeWidth": 2}},
      {"mark": {"type": "point", "filled": true, "size": 34, "opacity": 1},
       "encoding": {"shape": {"field": "s", "type": "nominal", "legend": null,
         "scale": {
          "domain": ["s1","s2","s3","s4","s5","s6","s7","s8","s9","s10","s11","s12","s13","s14","s15","s16","s17","s18","s19","s20","s21","s22","s23","s24","s25","s26","s27","s28","s29","s30","s31","s32","s33","s34","s35","s36","r","g","dg","o","p"],
          "range": ["diamond","square","triangle-up","diamond","square","triangle-up","circle","diamond","square","triangle-up","cross","diamond","square","triangle-up","circle","diamond","square","triangle-up","cross","diamond","square","triangle-up","circle","diamond","square","triangle-up","cross","diamond","square","triangle-up","circle","square","diamond","triangle-up","square","cross","triangle-up","diamond","diamond","triangle-up","circle"]
         }}}}
    ]
  },
  {
    "data": {"values": [{}]},
    "mark": {"type": "rect", "color": "white"},
    "encoding": {
      "x": {"datum": 13399, "type": "quantitative"},
      "x2": {"datum": 24829},
      "y": {"datum": 46.8, "type": "quantitative"},
      "y2": {"datum": 16.2}
    }
  },
  {
    "data": {"values": [{"label": "Samples: 200", "row": 37.3}, {"label": "No failures", "row": 24.0}]},
    "mark": {"type": "text", "color": "black", "fontSize": 31, "align": "left", "baseline": "middle"},
    "encoding": {
      "x": {"datum": 14255, "type": "quantitative"},
      "y": {"field": "row", "type": "quantitative"},
      "text": {"field": "label"}
    }
  }
]
}
